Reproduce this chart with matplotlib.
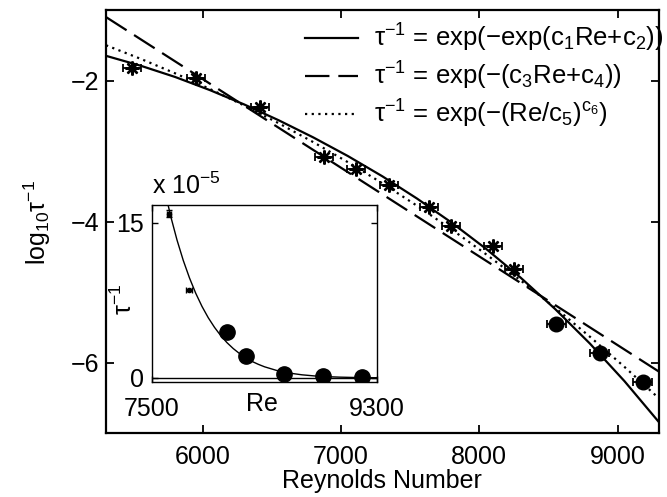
import matplotlib
matplotlib.use('Agg')
import matplotlib.pyplot as plt
import numpy as np

plt.rcParams['font.family'] = ['Liberation Sans', 'DejaVu Sans']
plt.rcParams['mathtext.fontset'] = 'custom'
plt.rcParams['mathtext.rm'] = 'Liberation Sans'
plt.rcParams['mathtext.it'] = 'Liberation Sans:italic'
plt.rcParams['mathtext.default'] = 'regular'

# ---- measured points (Reynolds number, log10 of 1/tau) ----
re_pts = [5486, 5949, 6413, 6877, 7109, 7348, 7638, 7797, 8101, 8254, 8558, 8870, 9181]
log_tau = [-1.82, -1.96, -2.38, -3.09, -3.25, -3.48, -3.80, -4.07, -4.35, -4.68, -5.45, -5.86, -6.28]
re_err = [65, 65, 65, 65, 65, 65, 65, 65, 65, 65, 70, 70, 70]
n_star = 10  # first points drawn as asterisks, rest as filled circles

# ---- fitted curves ----
solid_re = [5300, 5550, 5800, 6050, 6300, 6550, 6800, 7050, 7300, 7550, 7800, 8050, 8300, 8550, 8800, 9050, 9300]
solid_log = [-1.650, -1.790, -1.950, -2.135, -2.340, -2.565, -2.808, -3.072, -3.360, -3.675, -4.016,
             -4.389, -4.798, -5.244, -5.731, -6.264, -6.847]
dash_re = [5300, 9300]
dash_log = [-1.10, -6.13]
dot_re = solid_re
dot_log = [-1.500, -1.692, -1.898, -2.119, -2.355, -2.607, -2.875, -3.159, -3.459, -3.777, -4.113,
           -4.466, -4.837, -5.226, -5.634, -6.062, -6.509]

# ---- inset curve (tau^-1 in units of 1e-5) ----
inset_re = [7600, 7650, 7700, 7750, 7800, 7850, 7900, 7950, 8000, 8050, 8100, 8150, 8200, 8250, 8300,
            8350, 8400, 8500, 8600, 8700, 8800, 8900, 9000, 9100, 9200, 9300]
inset_val = [18.20, 15.59, 13.32, 11.35, 9.65, 8.17, 6.90, 5.81, 4.88, 4.08, 3.40, 2.83, 2.35, 1.94, 1.59,
             1.31, 1.07, 0.706, 0.459, 0.294, 0.186, 0.115, 0.070, 0.042, 0.025, 0.014]
inset_small = 2  # first inset points drawn small with error bars
inset_yerr = [0.35, 0.08]
inset_xerr = [15, 25]

labels = ['τ$^{-1}$ = exp(−exp(c$_1$Re+c$_2$))',
          'τ$^{-1}$ = exp(−(c$_3$Re+c$_4$))',
          'τ$^{-1}$ = exp(−(Re/c$_5$)$^{c_6}$)']

W, H = 667, 497
fig = plt.figure(figsize=(W / 100, H / 100), dpi=100)
ax = fig.add_axes([106 / W, 1 - 433 / H, 553 / W, 423 / H])

l1, = ax.plot(solid_re, solid_log, color='k', lw=1.6, label=labels[0])
l2, = ax.plot(dash_re, dash_log, color='k', lw=1.6, ls=(0, (11, 4)), label=labels[1])
l3, = ax.plot(dot_re, dot_log, color='k', lw=1.6, ls=(0, (1, 2)), label=labels[2])

ax.errorbar(re_pts, log_tau, xerr=re_err, fmt='none', ecolor='k', elinewidth=1.3,
            capsize=3, capthick=1.3)
ax.plot(re_pts[:n_star], log_tau[:n_star], ls='none', marker=(8, 2, 0), ms=10, mew=1.7, color='k')
ax.plot(re_pts[n_star:], log_tau[n_star:], ls='none', marker='o', ms=10.5, color='k')

ax.set_xlim(5300, 9300)
ax.set_ylim(-7, -1)
ax.set_xticks([6000, 7000, 8000, 9000])
ax.set_yticks([-6, -4, -2])
ax.tick_params(direction='in', length=6, width=1.3, top=True, right=True, labelsize=18)
ax.tick_params(axis='x', pad=9)
ax.tick_params(axis='y', pad=5)
for s in ax.spines.values():
    s.set_linewidth(1.6)

fig.text(382 / W, 1 - 481 / H, 'Reynolds Number', ha='center', va='center', fontsize=18)
fig.text(37 / W, 1 - 223 / H, 'log$_{10}$τ$^{-1}$', ha='center', va='center', rotation=90, fontsize=18)

ax.legend(handles=[l1, l2, l3], loc='upper left', bbox_to_anchor=(305 / W, 1 - 22 / H),
          bbox_transform=fig.transFigure, frameon=False, fontsize=18.5, handlelength=2.05,
          handletextpad=0.65, labelspacing=0.22, borderpad=0, borderaxespad=0)

# ---- inset ----
axin = fig.add_axes([152 / W, 1 - 382 / H, 225 / W, 177 / H])
inset_re_pts = [r for r in re_pts if r >= 7500]
inset_y = [10 ** v / 1e-5 for r, v in zip(re_pts, log_tau) if r >= 7500]
axin.plot(inset_re, inset_val, color='k', lw=1.0)
axin.axhline(0, color='k', lw=1.0)
axin.errorbar(inset_re_pts[:inset_small], inset_y[:inset_small], xerr=inset_xerr, yerr=inset_yerr,
              fmt='o', ms=3, color='k', ecolor='k', elinewidth=1.0, capsize=2, capthick=1.0)
axin.plot(inset_re_pts[inset_small:], inset_y[inset_small:], ls='none', marker='o', ms=11, color='k')
axin.set_xlim(7500, 9300)
axin.set_ylim(-0.4, 16.7)
axin.set_xticks([7500, 9300])
axin.set_yticks([0, 15])
axin.tick_params(direction='in', length=4, width=1.0, top=True, right=True, labelsize=18)
axin.tick_params(axis='x', pad=11)
axin.tick_params(axis='y', pad=6)
for s in axin.spines.values():
    s.set_linewidth(1.0)
axin.text(-0.124, 0.469, 'τ$^{-1}$', rotation=90, transform=axin.transAxes, ha='center', va='center',
          fontsize=18)
axin.text(0.489, -0.125, 'Re', transform=axin.transAxes, ha='center', va='center', fontsize=18)
axin.text(0.0, 1.11, 'x 10$^{-5}$', transform=axin.transAxes, ha='left', va='center', fontsize=18)

fig.savefig('out.png', dpi=100)
